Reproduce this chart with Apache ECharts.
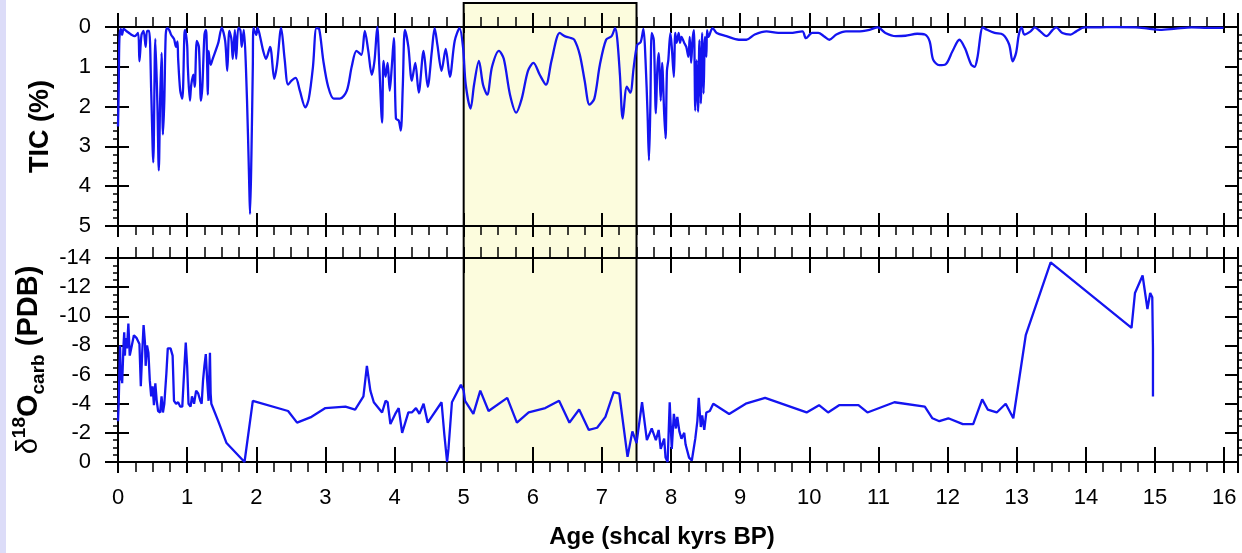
<!DOCTYPE html>
<html>
<head>
<meta charset="utf-8">
<title>TIC and d18O record</title>
<script src="https://cdn.jsdelivr.net/npm/echarts@6/dist/echarts.min.js"></script>
<style>
  html, body { margin: 0; padding: 0; background: #fff; }
  #chart {
    width: 1242px;
    height: 553px;
    background: linear-gradient(to right, #dcdcf8 0, #dcdcf8 6px, #fff 6px);
  }
</style>
</head>
<body>
<div id="chart"></div>
<script>
  // TIC (%) against age (kyr BP)
  const ticAge = [0.00, 0.01, 0.02, 0.04, 0.06, 0.08, 0.12, 0.16, 0.20, 0.24, 0.29, 0.31, 0.34, 0.37, 0.40, 0.42, 0.45, 0.48, 0.51, 0.54,
    0.57, 0.59, 0.61, 0.63, 0.65, 0.67, 0.69, 0.71, 0.74, 0.77, 0.81, 0.84, 0.86, 0.87, 0.90, 0.93, 0.96, 0.97, 1.00, 1.01,
    1.04, 1.06, 1.09, 1.11, 1.14, 1.17, 1.20, 1.22, 1.25, 1.27, 1.28, 1.30, 1.31, 1.34, 1.37, 1.45, 1.50, 1.55, 1.58, 1.61,
    1.64, 1.66, 1.69, 1.71, 1.74, 1.77, 1.79, 1.82, 1.85, 1.88, 1.90, 1.91, 1.93, 1.95, 1.96, 2.00, 2.02, 2.05, 2.10, 2.14,
    2.20, 2.26, 2.30, 2.36, 2.41, 2.46, 2.51, 2.57, 2.63, 2.71, 2.76, 2.82, 2.87, 2.91, 2.97, 3.04, 3.12, 3.21, 3.31, 3.38,
    3.45, 3.52, 3.57, 3.62, 3.67, 3.71, 3.75, 3.78, 3.82, 3.84, 3.87, 3.90, 3.93, 3.96, 3.99, 4.02, 4.06, 4.09, 4.12, 4.15,
    4.20, 4.25, 4.30, 4.35, 4.42, 4.48, 4.54, 4.58, 4.62, 4.68, 4.74, 4.80, 4.87, 4.94, 4.99, 5.03, 5.10, 5.15, 5.22, 5.28,
    5.34, 5.41, 5.51, 5.58, 5.67, 5.76, 5.84, 5.93, 6.01, 6.10, 6.19, 6.27, 6.39, 6.46, 6.54, 6.60, 6.68, 6.75, 6.82, 6.89,
    6.97, 7.06, 7.14, 7.19, 7.22, 7.26, 7.30, 7.36, 7.41, 7.46, 7.51, 7.56, 7.60, 7.63, 7.66, 7.68, 7.70, 7.72, 7.75, 7.78,
    7.80, 7.82, 7.85, 7.87, 7.90, 7.92, 7.94, 7.96, 7.99, 8.01, 8.04, 8.06, 8.08, 8.11, 8.13, 8.15, 8.19, 8.22, 8.25, 8.27,
    8.29, 8.31, 8.33, 8.35, 8.37, 8.39, 8.41, 8.43, 8.45, 8.47, 8.49, 8.51, 8.52, 8.54, 8.58, 8.60, 8.66, 8.80, 8.98, 9.09,
    9.21, 9.38, 9.55, 9.72, 9.90, 9.95, 10.04, 10.13, 10.21, 10.29, 10.39, 10.53, 10.70, 10.87, 10.99, 11.10, 11.25, 11.39, 11.56, 11.67,
    11.74, 11.79, 11.88, 11.97, 12.07, 12.17, 12.25, 12.34, 12.39, 12.43, 12.51, 12.57, 12.68, 12.80, 12.89, 12.94, 12.99, 13.03, 13.07, 13.11,
    13.20, 13.26, 13.34, 13.43, 13.52, 13.57, 13.66, 13.78, 13.86, 13.98, 14.15, 14.44, 14.72, 14.90, 15.07, 15.30, 15.53, 15.76, 15.99];
  const ticPct = [2.5, 1.6, 0.3, 0.05, 0.2, 0.05, 0.1, 0.15, 0.2, 0.23, 0.15, 0.86, 0.2, 0.1, 0.5, 0.1, 0.1, 1.6, 3.4, 0.3,
    1.95, 3.6, 1.8, 0.65, 2.7, 1.85, 0.2, 0.03, 0.07, 0.2, 0.3, 0.5, 0.36, 0.8, 1.6, 1.8, 0.2, 0.07, 0.45, 1.0,
    1.85, 1.45, 1.2, 1.5, 0.35, 0.5, 1.85, 1.5, 0.2, 0.07, 0.2, 1.7, 0.6, 0.95, 0.8, 0.4, 0.02, 0.35, 1.1, 0.1,
    0.3, 0.8, 0.07, 0.8, 0.02, 0.08, 0.5, 0.07, 1.0, 2.7, 4.1, 4.7, 3.2, 1.0, 0.02, 0.2, 0.02, 0.2, 0.6, 0.8,
    0.5, 1.3, 0.95, 0.02, 0.8, 1.45, 1.35, 1.28, 1.6, 2.02, 1.8, 1.0, 0.03, 0.05, 0.85, 1.5, 1.8, 1.8, 1.6, 1.0,
    0.6, 0.7, 0.1, 0.6, 1.2, 0.85, 0.0, 1.0, 2.4, 0.85, 1.25, 0.9, 1.6, 1.0, 0.28, 2.3, 2.35, 2.6, 1.45, 0.07,
    0.5, 1.35, 0.9, 1.65, 0.6, 1.5, 0.6, 0.03, 0.45, 1.1, 0.55, 1.25, 0.35, 0.03, 0.5, 1.45, 2.05, 1.45, 0.85, 1.45,
    1.7, 1.0, 0.6, 0.8, 1.7, 2.15, 1.8, 1.1, 0.9, 1.2, 1.45, 0.85, 0.15, 0.23, 0.27, 0.32, 0.7, 1.35, 1.95, 1.8,
    0.95, 0.32, 0.23, 0.03, 0.28, 1.2, 2.3, 1.5, 1.65, 1.0, 0.45, 0.38, 0.05, 0.83, 2.2, 3.35, 2.0, 0.15, 0.33, 2.17,
    1.1, 0.66, 1.85, 0.9, 2.17, 2.8, 1.1, 0.83, 0.15, 0.5, 1.25, 0.15, 0.4, 0.15, 0.4, 0.25, 0.4, 0.5, 0.75, 0.25,
    0.9, 0.33, 0.08, 2.1, 0.83, 2.13, 0.33, 1.92, 0.15, 1.67, 0.25, 0.75, 0.08, 0.25, 0.08, 0.03, 0.15, 0.23, 0.32, 0.32,
    0.19, 0.11, 0.15, 0.15, 0.11, 0.28, 0.15, 0.15, 0.23, 0.32, 0.19, 0.11, 0.11, 0.07, 0.01, 0.15, 0.23, 0.22, 0.17, 0.19,
    0.36, 0.82, 0.96, 0.94, 0.61, 0.32, 0.53, 0.94, 1.0, 0.78, 0.01, 0.07, 0.15, 0.19, 0.44, 0.86, 0.65, 0.19, 0.01, 0.19,
    0.11, 0.01, 0.11, 0.23, 0.07, 0.01, 0.15, 0.19, 0.11, 0.01, 0.01, 0.0, 0.01, 0.04, 0.07, 0.04, 0.01, 0.02, 0.02];

  // d18O carbonate (per mil PDB) against age (kyr BP)
  const d18oAge = [0.00, 0.01, 0.02, 0.03, 0.04, 0.05, 0.06, 0.08, 0.09, 0.10, 0.11, 0.13, 0.15, 0.17, 0.20, 0.23, 0.27, 0.31, 0.33, 0.35,
    0.37, 0.39, 0.40, 0.42, 0.44, 0.46, 0.48, 0.50, 0.52, 0.54, 0.56, 0.58, 0.61, 0.63, 0.65, 0.67, 0.70, 0.72, 0.76, 0.79,
    0.81, 0.84, 0.87, 0.90, 0.93, 0.95, 0.98, 1.00, 1.02, 1.05, 1.07, 1.10, 1.13, 1.16, 1.19, 1.21, 1.23, 1.25, 1.27, 1.29,
    1.31, 1.33, 1.34, 1.35, 1.45, 1.57, 1.83, 1.95, 2.46, 2.59, 2.80, 3.00, 3.29, 3.43, 3.55, 3.60, 3.65, 3.70, 3.82, 3.87,
    3.90, 3.94, 4.01, 4.06, 4.11, 4.20, 4.25, 4.31, 4.36, 4.42, 4.48, 4.68, 4.72, 4.76, 4.78, 4.83, 4.96, 5.00, 5.02, 5.14,
    5.24, 5.36, 5.63, 5.77, 5.94, 6.18, 6.38, 6.53, 6.67, 6.81, 6.93, 7.05, 7.17, 7.25, 7.37, 7.44, 7.50, 7.58, 7.65, 7.72,
    7.78, 7.82, 7.85, 7.90, 7.92, 7.95, 7.98, 8.01, 8.04, 8.07, 8.09, 8.12, 8.15, 8.19, 8.21, 8.26, 8.30, 8.35, 8.38, 8.40,
    8.43, 8.45, 8.48, 8.51, 8.56, 8.61, 8.84, 9.08, 9.36, 9.96, 10.14, 10.27, 10.43, 10.71, 10.84, 11.23, 11.67, 11.78, 11.88, 12.01,
    12.22, 12.37, 12.50, 12.58, 12.71, 12.84, 12.95, 13.13, 13.49, 14.66, 14.71, 14.82, 14.89, 14.93, 14.96, 14.97, 14.97];
  const d18oVal = [-2.8, -4.0, -6.1, -8.0, -5.6, -6.6, -5.4, -8.0, -8.9, -7.3, -8.5, -7.8, -9.5, -7.3, -8.0, -8.7, -8.5, -8.1, -5.2, -7.5,
    -9.4, -8.2, -6.6, -8.0, -7.5, -5.6, -4.5, -5.2, -3.9, -5.4, -4.2, -3.5, -3.4, -4.5, -3.4, -4.0, -6.1, -7.8, -7.8, -7.3,
    -4.2, -4.0, -4.1, -3.8, -3.8, -5.6, -8.2, -6.6, -4.0, -3.8, -4.5, -4.0, -4.9, -4.7, -4.2, -4.0, -5.6, -6.6, -7.4, -5.6,
    -4.2, -7.5, -4.7, -4.0, -2.8, -1.3, 0.0, -4.2, -3.5, -2.7, -3.1, -3.7, -3.8, -3.6, -4.5, -6.6, -4.9, -4.1, -3.4, -4.2,
    -4.1, -2.6, -3.3, -3.7, -2.0, -3.4, -3.4, -3.7, -3.3, -4.0, -2.7, -4.1, -1.9, 0.0, -0.9, -4.1, -5.3, -4.9, -4.2, -3.3,
    -4.9, -3.5, -4.4, -2.7, -3.4, -3.7, -4.2, -2.7, -3.6, -2.2, -2.35, -3.1, -4.8, -4.7, -0.35, -2.1, -1.3, -4.1, -1.5, -2.3,
    -1.5, -2.2, -0.9, -1.6, -0.3, 0.0, -4.1, -0.9, -3.3, -2.3, -3.1, -2.1, -1.6, -2.0, -1.2, -0.3, -0.1, -1.6, -2.8, -4.4,
    -2.4, -3.2, -2.2, -3.4, -3.5, -4.0, -3.3, -4.0, -4.4, -3.4, -3.9, -3.4, -3.9, -3.9, -3.4, -4.1, -3.8, -3.0, -2.8, -3.0,
    -2.6, -2.6, -4.3, -3.6, -3.4, -4.0, -3.0, -8.7, -13.7, -9.2, -11.6, -12.8, -10.5, -11.6, -11.3, -7.8, -4.5];

  // shaded interval (kyr BP)
  const highlight = [5, 7.5];

  const FONT = "'Liberation Sans', Arial, Helvetica, sans-serif";
  const INK = '#000';
  const BLUE = '#1414f0';
  const AGE_MIN = 0, AGE_MAX = 16.2;

  const panels = [
    { top: 27, height: 199 },
    { top: 258, height: 204 }
  ];

  function makeGrid(p) {
    return { left: 118, right: 4, top: p.top, height: p.height };
  }

  // one side of a frame: major ticks in one direction, optional minor ticks
  function ageAxis(gridIndex, position, o) {
    return {
      type: 'value',
      gridIndex: gridIndex,
      position: position,
      min: AGE_MIN,
      max: AGE_MAX,
      interval: 1,
      z: 3,
      axisLine: { show: true, onZero: false, lineStyle: { color: INK, width: 2 } },
      axisTick: { show: o.tick > 0, inside: !!o.inside, length: o.tick || 0, lineStyle: { color: INK, width: 2 } },
      minorTick: { show: !!o.minor, splitNumber: 4, length: o.minor || 0, lineStyle: { color: INK, width: 1.5 } },
      axisLabel: {
        show: !!o.label,
        margin: 25,
        color: INK,
        fontFamily: FONT,
        fontSize: 22,
        showMaxLabel: false
      },
      splitLine: { show: false }
    };
  }

  function valueAxis(gridIndex, position, range, o) {
    return {
      type: 'value',
      gridIndex: gridIndex,
      position: position,
      inverse: true,
      min: range[0],
      max: range[1],
      interval: range[2],
      z: 3,
      axisLine: { show: true, onZero: false, lineStyle: { color: INK, width: 2 } },
      axisTick: { show: o.tick > 0, inside: !!o.inside, length: o.tick || 0, lineStyle: { color: INK, width: 2 } },
      minorTick: { show: !!o.minor, splitNumber: range[3], length: o.minor || 0, lineStyle: { color: INK, width: 1.5 } },
      axisLabel: { show: !!o.label, margin: 27, color: INK, fontFamily: FONT, fontSize: 22 },
      splitLine: { show: false }
    };
  }

  const ticRange = [0, 5, 1, 5];
  const d18oRange = [-14, 0, 2, 4];

  const chart = echarts.init(document.getElementById('chart'));

  const xAxes = [
    // grid 0: top panel, outward ticks
    ageAxis(0, 'top', { tick: 14, minor: 10 }),
    ageAxis(0, 'bottom', { tick: 11, minor: 9 }),
    // grid 1: top panel, inward ticks
    ageAxis(1, 'top', { tick: 6, inside: true }),
    ageAxis(1, 'bottom', { tick: 13, inside: true }),
    // grid 2: bottom panel, outward ticks + labels
    ageAxis(2, 'top', { tick: 11, minor: 11 }),
    Object.assign(ageAxis(2, 'bottom', { tick: 11, minor: 10, label: true }), {
      name: 'Age (shcal kyrs BP)',
      nameLocation: 'middle',
      nameGap: 63,
      nameTextStyle: { color: INK, fontFamily: FONT, fontSize: 24, fontWeight: 'bold', padding: [0, 32, 0, 0] }
    }),
    // grid 3: bottom panel, inward ticks
    ageAxis(3, 'top', { tick: 15, inside: true }),
    ageAxis(3, 'bottom', { tick: 15, inside: true }),
    // grid 4: shaded interval
    { type: 'value', gridIndex: 4, min: AGE_MIN, max: AGE_MAX, show: false }
  ];

  const yAxes = [
    Object.assign(valueAxis(0, 'left', ticRange, { tick: 13, minor: 5, label: true }), {
      name: 'TIC (%)',
      nameLocation: 'middle',
      nameGap: 64,
      nameTextStyle: { color: INK, fontFamily: FONT, fontSize: 27, fontWeight: 'bold' }
    }),
    valueAxis(0, 'right', ticRange, { tick: 0, minor: 5 }),
    valueAxis(1, 'left', ticRange, { tick: 11, inside: true }),
    valueAxis(1, 'right', ticRange, { tick: 13, inside: true }),
    Object.assign(valueAxis(2, 'left', d18oRange, { tick: 13, minor: 5, label: true }), {
      name: '{d|δ}{sup|18}{o|O}{sub|carb}{o| (PDB)}',
      nameLocation: 'middle',
      nameGap: 62,
      nameTextStyle: {
        color: INK,
        fontFamily: FONT,
        rich: {
          d: { fontSize: 29, fontFamily: FONT, color: INK, lineHeight: 38 },
          o: { fontSize: 29, fontFamily: FONT, fontWeight: 'bold', color: INK, lineHeight: 38 },
          sup: { fontSize: 19, fontFamily: FONT, fontWeight: 'bold', color: INK, verticalAlign: 'top', lineHeight: 19 },
          sub: { fontSize: 19, fontFamily: FONT, fontWeight: 'bold', color: INK, verticalAlign: 'bottom', lineHeight: 19 }
        }
      }
    }),
    valueAxis(2, 'right', d18oRange, { tick: 0, minor: 5 }),
    valueAxis(3, 'left', d18oRange, { tick: 11, inside: true }),
    valueAxis(3, 'right', d18oRange, { tick: 13, inside: true }),
    { type: 'value', gridIndex: 4, min: 0, max: 1, show: false }
  ];

  chart.setOption({
    animation: false,
    backgroundColor: 'transparent',
    grid: [
      makeGrid(panels[0]),
      makeGrid(panels[0]),
      makeGrid(panels[1]),
      makeGrid(panels[1]),
      { left: 118, right: 4, top: 3, bottom: 91 }
    ],
    xAxis: xAxes,
    yAxis: yAxes,
    series: [{
      name: 'interval',
      type: 'custom',
      xAxisIndex: 8,
      yAxisIndex: 8,
      z: 1,
      silent: true,
      data: [highlight],
      renderItem: function (params, api) {
        const a = api.coord([api.value(0), 1]);
        const b = api.coord([api.value(1), 0]);
        return {
          type: 'rect',
          shape: { x: a[0], y: a[1], width: b[0] - a[0], height: b[1] - a[1] },
          style: { fill: '#fcfcdd', stroke: INK, lineWidth: 2 }
        };
      }
    }, {
      name: 'TIC',
      type: 'line',
      xAxisIndex: 0,
      yAxisIndex: 0,
      z: 4,
      clip: true,
      smooth: 0.3,
      showSymbol: false,
      lineStyle: { color: BLUE, width: 2.3 },
      data: ticAge.map((a, i) => [a, ticPct[i]])
    }, {
      name: 'd18O',
      type: 'line',
      xAxisIndex: 4,
      yAxisIndex: 4,
      z: 4,
      clip: false,
      showSymbol: false,
      lineStyle: { color: BLUE, width: 2.3 },
      data: d18oAge.map((a, i) => [a, d18oVal[i]])
    }]
  });
</script>
</body>
</html>
